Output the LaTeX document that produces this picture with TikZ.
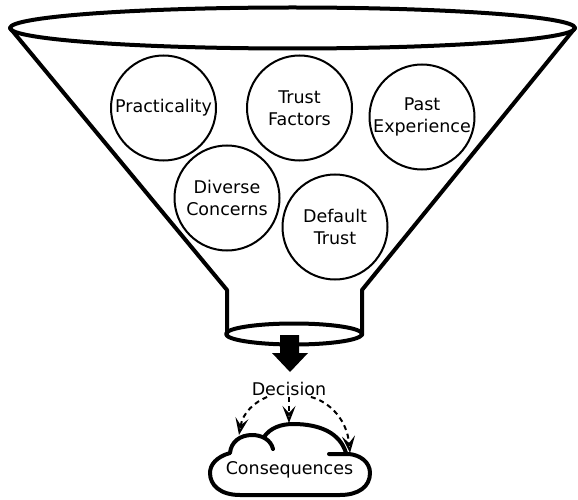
\documentclass[tikz,border=0pt]{standalone}
\usepackage{fontspec}
\setmainfont{DejaVu Sans}
\usetikzlibrary{arrows.meta}
\tikzset{
 heavy/.style={line width=4pt,line join=round,line cap=round},
 topic/.style={circle,draw,line width=2pt,minimum size=105pt,inner sep=0pt,align=center,font=\fontsize{17.5}{22.5}\selectfont},
 label/.style={inner sep=1pt,font=\fontsize{17.5}{21}\selectfont},
 dasharrow/.style={line width=2pt,dash pattern=on 5pt off 4pt,-{Stealth[length=17pt,width=13pt,inset=7pt,fill=none,line width=2pt]}},
}
\begin{document}
\begin{tikzpicture}[x=1pt,y=-1pt]
\useasboundingbox (0,0) rectangle (578,500);
% funnel
\draw[heavy] (10,28) -- (227,290) -- (227,335);
\draw[heavy] (575,28) -- (362,290) -- (362,335);
\draw[heavy] (292.5,28) ellipse [x radius=282.5,y radius=20.5];
\draw[heavy] (294,334) ellipse [x radius=68,y radius=10.5];
% topics
\node[topic] (prac) at (163.5,108) {Practicality};
\node[topic] (trust) at (299.5,108) {Trust\\Factors};
\node[topic] (past) at (422,117) {Past\\Experience};
\node[topic] (div) at (227,198) {Diverse\\Concerns};
\node[topic] (def) at (335,227) {Default\\Trust};
% big arrow
\fill (280,335) -- (299,335) -- (299,353) -- (308,353) -- (290,372) -- (272,353) -- (280,353) -- cycle;
% cloud
\draw[heavy] (273,449) .. controls (271,440) and (262,435) .. (252,435)
  .. controls (240,435) and (231,442) .. (230,453)
  .. controls (216,457) and (210,465) .. (210,473)
  .. controls (210,485) and (220,495) .. (240,495)
  -- (340,495) .. controls (358,495) and (370,487) .. (370,473)
  .. controls (370,462) and (360,455) .. (349,454) -- (329,454);
\draw[heavy] (264,437) .. controls (270,428) and (281,424) .. (293,424)
  .. controls (320,424) and (340,433) .. (346,453);
\node[label] (cons) at (289.5,470) {Consequences};
\node[label] (dec) at (289,389) {Decision};
\coordinate (cl) at (239,435);
\coordinate (cm) at (289,423);
\coordinate (cr) at (350,453);
\draw[dasharrow] (dec.200) .. controls (255,402) and (243,412) .. (cl);
\draw[dasharrow] (dec.south) -- (cm);
\draw[dasharrow] (dec.-20) .. controls (330,402) and (347,420) .. (cr);
\end{tikzpicture}
\end{document}
